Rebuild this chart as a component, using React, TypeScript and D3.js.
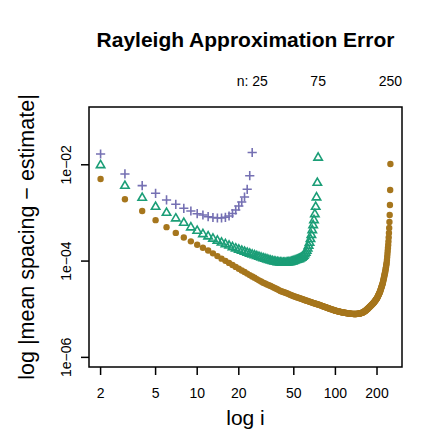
import React from "react";
import * as d3 from "d3";

const title = "Rayleigh Approximation Error";
const xLabel = "log i";
const yLabel = "log |mean spacing \u2212 estimate|";
const xTicks = [2, 5, 10, 20, 50, 100, 200];
const yTicks = [1e-6, 1e-4, 1e-2];
const yTickLabels = ["1e\u221206", "1e\u221204", "1e\u221202"];
const nValues = [25, 75, 250];
const nLabels = ["n: 25", "75", "250"];
const seriesColors = ["#7570B3", "#1B9E77", "#A6761D"];

// log10 |mean spacing - estimate|, for i = 2 .. n
const log25 = [
  -1.776, -2.191, -2.434, -2.592, -2.731, -2.821, -2.904, -2.96, -3.016, -3.043,
  -3.078, -3.095, -3.105, -3.105, -3.091, -3.064, -3.012, -2.939, -2.856, -2.773,
  -2.669, -2.509, -2.227, -1.745,
];
const log75 = [
  -2.005, -2.434, -2.684, -2.871, -2.995, -3.112, -3.203, -3.298, -3.369,
  -3.438, -3.485, -3.531, -3.573, -3.612, -3.645, -3.676, -3.708, -3.735, -3.76,
  -3.782, -3.803, -3.824, -3.843, -3.861, -3.878, -3.894, -3.909, -3.924, -3.938,
  -3.951, -3.963, -3.976, -3.986, -3.996, -4.005, -4.013, -4.019, -4.023, -4.027,
  -4.03, -4.032, -4.032, -4.03, -4.027, -4.023, -4.019, -4.013, -4.005, -3.996,
  -3.986, -3.976, -3.969, -3.961, -3.953, -3.94, -3.926, -3.907, -3.884, -3.857,
  -3.824, -3.784, -3.737, -3.681, -3.616, -3.541, -3.454, -3.355, -3.251, -3.147,
  -3.022, -2.871, -2.675, -2.372, -1.849,
];
const log250 = [
  -2.295, -2.717, -2.96, -3.15, -3.295, -3.415, -3.51, -3.59, -3.66,
  -3.722, -3.78, -3.84, -3.897, -3.95, -3.995, -4.038, -4.08, -4.121, -4.16,
  -4.195, -4.228, -4.26, -4.291, -4.32, -4.347, -4.374, -4.4, -4.425, -4.45,
  -4.467, -4.484, -4.501, -4.518, -4.535, -4.552, -4.569, -4.586, -4.603, -4.62,
  -4.631, -4.642, -4.653, -4.664, -4.675, -4.686, -4.697, -4.708, -4.719, -4.73,
  -4.738, -4.746, -4.754, -4.762, -4.77, -4.778, -4.786, -4.794, -4.802, -4.81,
  -4.817, -4.823, -4.83, -4.836, -4.843, -4.849, -4.856, -4.862, -4.869, -4.875,
  -4.881, -4.886, -4.892, -4.897, -4.903, -4.908, -4.914, -4.919, -4.925, -4.93,
  -4.936, -4.941, -4.947, -4.952, -4.958, -4.963, -4.969, -4.974, -4.98, -4.985,
  -4.99, -4.994, -4.999, -5.003, -5.008, -5.012, -5.017, -5.021, -5.026, -5.03,
  -5.033, -5.036, -5.039, -5.042, -5.045, -5.048, -5.051, -5.054, -5.057, -5.06,
  -5.062, -5.064, -5.066, -5.068, -5.07, -5.072, -5.074, -5.076, -5.078, -5.08,
  -5.082, -5.083, -5.085, -5.086, -5.088, -5.089, -5.091, -5.092, -5.094, -5.095,
  -5.096, -5.096, -5.097, -5.097, -5.098, -5.098, -5.099, -5.099, -5.1, -5.1,
  -5.099, -5.098, -5.097, -5.096, -5.095, -5.094, -5.093, -5.092, -5.091, -5.09,
  -5.087, -5.084, -5.081, -5.078, -5.075, -5.072, -5.069, -5.066, -5.063, -5.06,
  -5.054, -5.048, -5.042, -5.036, -5.03, -5.024, -5.018, -5.012, -5.006, -5.0,
  -4.993, -4.986, -4.979, -4.972, -4.965, -4.958, -4.951, -4.944, -4.937, -4.93,
  -4.923, -4.916, -4.909, -4.902, -4.895, -4.888, -4.881, -4.874, -4.867, -4.86,
  -4.851, -4.842, -4.833, -4.824, -4.815, -4.806, -4.797, -4.788, -4.779, -4.77,
  -4.757, -4.744, -4.731, -4.718, -4.705, -4.692, -4.679, -4.666, -4.653, -4.64,
  -4.622, -4.604, -4.586, -4.568, -4.55, -4.532, -4.514, -4.496, -4.478, -4.46,
  -4.434, -4.408, -4.382, -4.356, -4.33, -4.304, -4.278, -4.252, -4.226, -4.2,
  -4.166, -4.132, -4.098, -4.064, -4.03, -3.978, -3.915, -3.853, -3.791, -3.728,
  -3.666, -3.593, -3.51, -3.417, -3.313, -3.188, -3.043, -2.835, -2.524, -1.984,
];

const W = 439;
const H = 439;
const plotLeft = 89;
const plotRight = 402;
const plotTop = 107;
const plotBottom = 367;
const FONT = "'Liberation Sans', Arial, Helvetica, sans-serif";

function toPoints(logs: number[]) {
  return logs.map((l, k) => ({ i: k + 2, v: Math.pow(10, l) }));
}

export default function App() {
  const lx0 = Math.log10(2);
  const lx1 = Math.log10(250);
  const px = 0.04 * (lx1 - lx0);
  const x = d3
    .scaleLog()
    .domain([Math.pow(10, lx0 - px), Math.pow(10, lx1 + px)])
    .range([plotLeft, plotRight]);
  const ly0 = -6;
  const ly1 = -1;
  const py = 0.04 * (ly1 - ly0);
  const y = d3
    .scaleLog()
    .domain([Math.pow(10, ly0 - py), Math.pow(10, ly1 + py)])
    .range([plotBottom, plotTop]);

  const p25 = toPoints(log25);
  const p75 = toPoints(log75);
  const p250 = toPoints(log250);

  const tri = "M0,-4.6L4.2,2.6L-4.2,2.6Z";
  const plus = "M-4.6,0H4.6M0,-4.6V4.6";

  return (
    <svg
      width={W}
      height={H}
      style={{ position: "absolute", left: 0, top: 0, background: "#fff" }}
      fontFamily={FONT}
    >
      <rect x={0} y={0} width={W} height={H} fill="#fff" />
      <text x={(plotLeft + plotRight) / 2} y={47} textAnchor="middle" fontSize={21} fontWeight="bold" fill="#000">
        {title}
      </text>
      {nValues.map((n, k) => (
        <text key={"n" + k} x={x(n)} y={86} textAnchor="middle" fontSize={14} fill="#000">
          {nLabels[k]}
        </text>
      ))}
      <g fill={seriesColors[2]}>
        {p250.map((d) => (
          <circle key={"b" + d.i} cx={x(d.i)} cy={y(d.v)} r={3.2} />
        ))}
      </g>
      <g fill="none" stroke={seriesColors[1]} strokeWidth={1.6}>
        {p75.map((d) => (
          <path key={"g" + d.i} d={tri} transform={`translate(${x(d.i)},${y(d.v)})`} />
        ))}
      </g>
      <g fill="none" stroke={seriesColors[0]} strokeWidth={1.6}>
        {p25.map((d) => (
          <path key={"p" + d.i} d={plus} transform={`translate(${x(d.i)},${y(d.v)})`} />
        ))}
      </g>
      <rect
        x={plotLeft}
        y={plotTop}
        width={plotRight - plotLeft}
        height={plotBottom - plotTop}
        fill="none"
        stroke="#000"
        strokeWidth={1.5}
      />
      {xTicks.map((t) => (
        <g key={"xt" + t}>
          <line x1={x(t)} x2={x(t)} y1={plotBottom} y2={plotBottom + 8} stroke="#000" strokeWidth={1.5} />
          <text x={x(t)} y={398} textAnchor="middle" fontSize={14} fill="#000">
            {String(t)}
          </text>
        </g>
      ))}
      {yTicks.map((t, k) => (
        <g key={"yt" + t}>
          <line x1={plotLeft - 8} x2={plotLeft} y1={y(t)} y2={y(t)} stroke="#000" strokeWidth={1.5} />
          <text
            transform={`translate(${70.5},${y(t)}) rotate(-90)`}
            textAnchor="middle"
            fontSize={14}
            fill="#000"
          >
            {yTickLabels[k]}
          </text>
        </g>
      ))}
      <text x={(plotLeft + plotRight) / 2} y={425} textAnchor="middle" fontSize={21} fill="#000">
        {xLabel}
      </text>
      <text
        transform={`translate(${34},${(plotTop + plotBottom) / 2}) rotate(-90)`}
        textAnchor="middle"
        fontSize={21.5}
        fill="#000"
      >
        {yLabel}
      </text>
    </svg>
  );
}
